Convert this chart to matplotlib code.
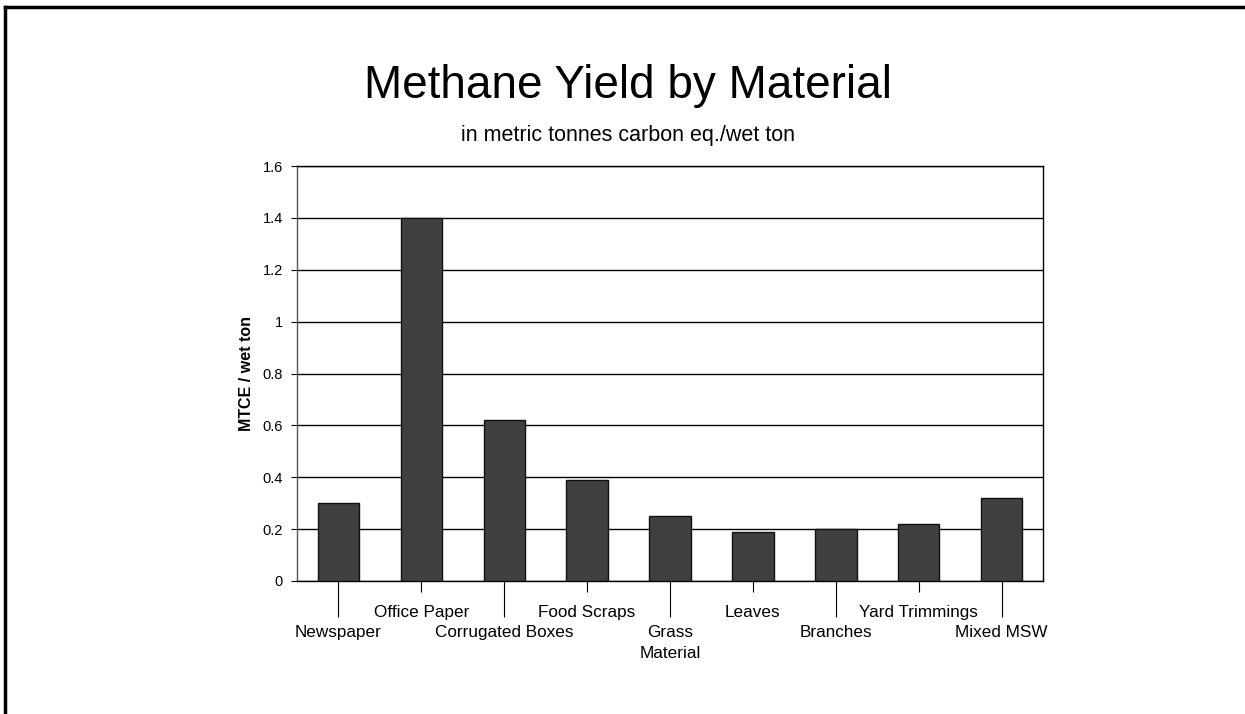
import matplotlib.pyplot as plt
from matplotlib.lines import Line2D

plt.rcParams['font.family'] = ['Liberation Sans', 'DejaVu Sans']

# data
materials = ['Newspaper', 'Office Paper', 'Corrugated Boxes', 'Food Scraps',
             'Grass\nMaterial', 'Leaves', 'Branches', 'Yard Trimmings', 'Mixed MSW']
mtce = [0.30, 1.40, 0.62, 0.39, 0.25, 0.19, 0.20, 0.22, 0.32]
yticks = [0, 0.2, 0.4, 0.6, 0.8, 1, 1.2, 1.4, 1.6]
ytick_labels = ['0', '0.2', '0.4', '0.6', '0.8', '1', '1.2', '1.4', '1.6']

fig = plt.figure(figsize=(12.45, 7.14), dpi=100)
ax = fig.add_axes([297 / 1245, 1 - 581 / 714, (1043 - 297) / 1245, (581 - 166) / 714])

x = list(range(len(materials)))
ax.bar(x, mtce, width=0.5, color='#404040', edgecolor='#111111', linewidth=1, zorder=3)

ax.set_xlim(-0.5, len(materials) - 0.5)
ax.set_ylim(0, 1.6)
ax.set_yticks(yticks, ytick_labels, fontsize=10.5)
ax.yaxis.grid(True, color='black', linewidth=1)
ax.set_axisbelow(True)
ax.tick_params(axis='y', length=4, width=0.8, pad=6)

# staggered category labels: odd ones on the top row, even ones below with long ticks
top_row = [i for i in x if i % 2 == 1]
low_row = [i for i in x if i % 2 == 0]
ax.set_xticks(top_row, [materials[i] for i in top_row], fontsize=12.3)
ax.set_xticks(low_row, [materials[i] for i in low_row], minor=True, fontsize=12.3)
ax.tick_params(axis='x', which='major', length=8, width=0.8, pad=9.5)
ax.tick_params(axis='x', which='minor', length=26, width=0.8, pad=6)
for lbl in ax.get_xticklabels(minor=True):
    lbl.set_linespacing(1.45)

for s in ax.spines.values():
    s.set_linewidth(1)
    s.set_color('black')
ax.spines['left'].set_color('#555555')

ax.set_ylabel('MTCE / wet ton', fontsize=11.5, fontweight='bold', labelpad=6)

fig.text(628 / 1245, 1 - 86 / 714, 'Methane Yield by Material', fontsize=33,
         ha='center', va='center')
fig.text(628 / 1245, 1 - 136 / 714, 'in metric tonnes carbon eq./wet ton', fontsize=15.5,
         ha='center', va='center')

# page frame (left and top edges)
fig.add_artist(Line2D([5 / 1245, 5 / 1245], [0, 1 - 7 / 714], color='black', linewidth=2.5))
fig.add_artist(Line2D([5 / 1245, 1], [1 - 7 / 714, 1 - 7 / 714], color='black', linewidth=2.5))

fig.savefig('out.png', dpi=100)
